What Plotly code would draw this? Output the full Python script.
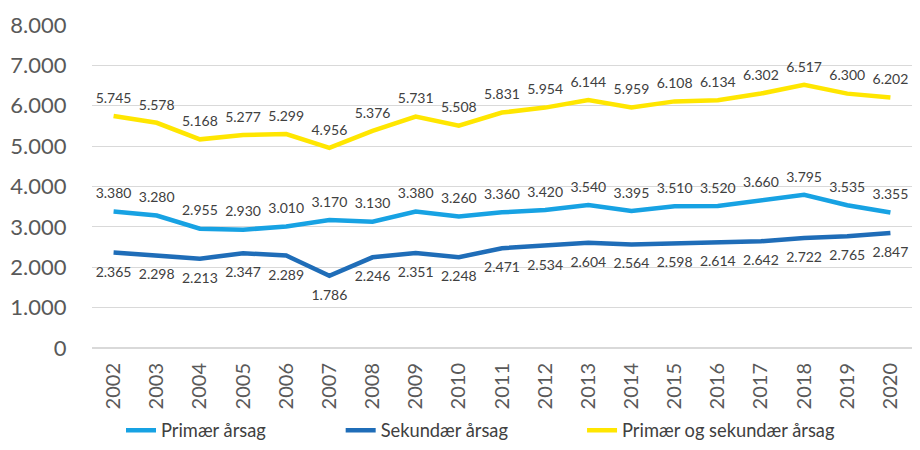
import plotly.graph_objects as go

years = [str(y) for y in range(2002, 2021)]
primaer = [3380, 3280, 2955, 2930, 3010, 3170, 3130, 3380, 3260, 3360, 3420, 3540, 3395, 3510, 3520, 3660, 3795, 3535, 3355]
sekundaer = [2365, 2298, 2213, 2347, 2289, 1786, 2246, 2351, 2248, 2471, 2534, 2604, 2564, 2598, 2614, 2642, 2722, 2765, 2847]
begge = [5745, 5578, 5168, 5277, 5299, 4956, 5376, 5731, 5508, 5831, 5954, 6144, 5959, 6108, 6134, 6302, 6517, 6300, 6202]

FONT = "Lato"
LBL = dict(family=FONT, size=14, color="#404040")

series = [
    (primaer, "Primær årsag", "#17A2E3", "top center", 14, "legend", 0.125),
    (sekundaer, "Sekundær årsag", "#1F6DB8", "bottom center", 20, "legend2", 0.368),
    (begge, "Primær og sekundær årsag", "#FFE600", "top center", 14, "legend3", 0.635),
]

fig = go.Figure()
for y, name, color, pos, msize, leg, lx in series:
    fig.add_trace(go.Scatter(x=years, y=y, name=name, mode="lines",
                             line=dict(color=color, width=4.5), legend=leg))
for y, name, color, pos, msize, leg, lx in series:
    fig.add_trace(go.Scatter(x=years, y=y, name=name, mode="markers+text", showlegend=False,
                             marker=dict(size=msize, opacity=0, color=color),
                             texttemplate="%{y:,.0f}", textposition=pos, textfont=LBL,
                             hoverinfo="skip"))

W, H = 904, 434
legs = {}
for y, name, color, pos, msize, leg, lx in series:
    legs[leg] = dict(orientation="h", xref="container", yref="container",
                     x=lx, y=0.027, xanchor="left", yanchor="middle",
                     font=dict(family=FONT, size=18.3, color="#404040"),
                     itemwidth=30, bgcolor="rgba(0,0,0,0)", borderwidth=0)

fig.update_layout(
    width=W, height=H,
    margin=dict(l=84, r=0, t=17, b=94, autoexpand=False),
    paper_bgcolor="white", plot_bgcolor="white",
    separators=",.",
    font=dict(family=FONT, color="#595959"),
    showlegend=True,
    **legs,
    xaxis=dict(tickangle=-90, tickfont=dict(family=FONT, size=20, color="#595959"),
               showgrid=False, showline=False, ticks="outside", ticklen=6,
               tickcolor="white", range=[-0.5, 18.5], automargin=False),
    yaxis=dict(range=[0, 8000], dtick=1000, tickformat=",.0f",
               tickfont=dict(family=FONT, size=22, color="#595959"),
               gridcolor="#D9D9D9", gridwidth=1, zeroline=True, zerolinecolor="#D9D9D9",
               showline=False, ticks="outside", ticklen=20, tickcolor="white",
               automargin=False),
)

fig.write_html("out.html")
